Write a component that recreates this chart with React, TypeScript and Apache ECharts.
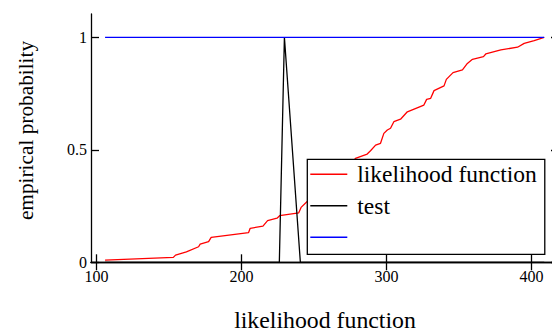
import React, { useEffect, useRef } from "react";
import * as echarts from "echarts";

const likelihoodX = [105.9, 153.0, 154.5, 162.0, 170.4, 171.5, 177.3, 179.1, 204.9, 206.0, 214.8, 218.0, 224.5, 226.3, 239.5, 241.1, 245.3, 252.0, 258.0, 264.0, 270.0, 275.0, 278.6, 286.7, 289.0, 292.5, 295.9, 298.2, 300.6, 302.8, 305.1, 309.7, 314.4, 325.8, 327.7, 330.5, 332.8, 339.7, 341.3, 345.9, 352.4, 355.8, 359.3, 366.9, 368.5, 378.9, 390.4, 395.0, 401.9, 408.8];
const likelihoodY = [0.010, 0.022, 0.032, 0.046, 0.069, 0.081, 0.092, 0.111, 0.132, 0.151, 0.161, 0.185, 0.196, 0.207, 0.220, 0.244, 0.270, 0.300, 0.330, 0.360, 0.400, 0.430, 0.462, 0.481, 0.496, 0.521, 0.529, 0.573, 0.588, 0.596, 0.625, 0.636, 0.669, 0.699, 0.724, 0.729, 0.763, 0.784, 0.813, 0.843, 0.855, 0.884, 0.902, 0.914, 0.926, 0.944, 0.956, 0.973, 0.985, 1.000];

const testX = [105.9, 226.1, 229.6, 240.6, 408.8];
const testY = [0, 0, 1, 0, 0];

const blueX = [105.9, 408.8];
const blueY = [1, 1];

const xTicks = [100, 200, 300, 400];
const yTicks = [0, 0.5, 1];

const seriesNames = ["likelihood function", "test", " "];

const FONT = '"Liberation Serif", "Times New Roman", serif';

function zip(xs: number[], ys: number[]) {
  return xs.map((x, i) => [x, ys[i]]);
}

export default function App() {
  const ref = useRef<HTMLDivElement>(null);
  useEffect(() => {
    if (!ref.current) return;
    const chart = echarts.init(ref.current, null, { renderer: "svg" });
    const axisLine = { show: true, lineStyle: { color: "#000", width: 1.3 } };
    const xTick = { show: true, inside: true, length: 8, lineStyle: { color: "#000", width: 1.3 }, customValues: xTicks };
    const yTick = { show: true, inside: true, length: 8, lineStyle: { color: "#000", width: 1.3 }, customValues: yTicks };
    const hiddenLabel = (vals: number[]) => ({ show: true, customValues: vals, formatter: () => "" });
    chart.setOption({
      animation: false,
      backgroundColor: "#fff",
      grid: { left: 91, top: 14, width: 468, height: 248.3, containLabel: false, outerBoundsMode: "none" },
      xAxis: [
        {
          type: "value", min: 96.2, max: 419, position: "bottom",
          axisLine, axisTick: xTick, splitLine: { show: false },
          axisLabel: { customValues: xTicks, color: "#000", fontFamily: FONT, fontSize: 16, margin: 6 },
          name: "likelihood function", nameLocation: "middle", nameGap: 46,
          nameTextStyle: { color: "#000", fontFamily: FONT, fontSize: 23.8 },
        },
        {
          type: "value", min: 96.2, max: 419, position: "top",
          axisLine, axisTick: xTick, splitLine: { show: false }, axisLabel: hiddenLabel(xTicks),
        },
      ],
      yAxis: [
        {
          type: "value", min: 0, max: 1.1036, position: "left",
          axisLine, axisTick: yTick, splitLine: { show: false },
          axisLabel: { customValues: yTicks, color: "#000", fontFamily: FONT, fontSize: 16, margin: 4, formatter: (v: number) => String(v) },
        },
        {
          type: "value", min: 0, max: 1.1036, position: "right",
          axisLine, axisTick: yTick, splitLine: { show: false }, axisLabel: hiddenLabel(yTicks),
        },
      ],
      legend: {
        orient: "vertical", left: 307.3, top: 159.3,
        data: seriesNames,
        icon: "rect",
        backgroundColor: "#fff", borderColor: "#000", borderWidth: 1.3,
        padding: [3, 8, 5, 3],
        itemWidth: 37, itemHeight: 1.4, itemGap: 7.5,
        textStyle: { color: "#000", fontFamily: FONT, fontSize: 23.5, lineHeight: 22, padding: [0, 0, 0, 5] },
      },
      graphic: [
        {
          type: "text", x: 25.5, y: 130.5, rotation: Math.PI / 2,
          style: { text: "empirical probability", font: `21.3px ${FONT}`, fill: "#000", align: "center", verticalAlign: "middle" },
        },
      ],
      series: [
        { name: seriesNames[0], type: "line", data: zip(likelihoodX, likelihoodY), symbol: "none", lineStyle: { color: "#ff0000", width: 1.3 }, itemStyle: { color: "#ff0000" } },
        { name: seriesNames[1], type: "line", data: zip(testX, testY), symbol: "none", lineStyle: { color: "#000", width: 1.3 }, itemStyle: { color: "#000" } },
        { name: seriesNames[2], type: "line", data: zip(blueX, blueY), symbol: "none", lineStyle: { color: "#0000ff", width: 1.3 }, itemStyle: { color: "#0000ff" } },
      ],
    });
    return () => chart.dispose();
  }, []);
  return <div ref={ref} style={{ position: "fixed", left: 0, top: 0, width: 552, height: 332 }} />;
}
